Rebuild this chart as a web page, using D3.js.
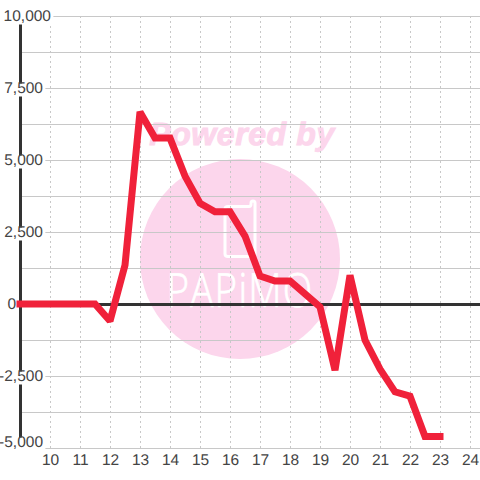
<!DOCTYPE html>
<html>
<head>
<meta charset="utf-8">
<script src="https://cdn.jsdelivr.net/npm/d3@7"></script>
<style>
  html, body { margin: 0; padding: 0; background: #fff; }
  svg { display: block; }
  text { font-family: "Liberation Sans", Arial, sans-serif; text-rendering: geometricPrecision; }
</style>
</head>
<body>
<svg id="chart" width="480" height="480"></svg>
<script>
// DATA
var hours = [9, 9.5, 10, 10.5, 11, 11.5, 12, 12.5, 13, 13.5, 14, 14.5, 15, 15.5, 16,
             16.5, 17, 17.5, 18, 18.5, 19, 19.5, 20, 20.5, 21, 21.5, 22, 22.5, 23];
var values = [0, 0, 0, 0, 0, 0, -590, 1350, 6670, 5760, 5760, 4440, 3500, 3200, 3200,
              2360, 970, 800, 800, 350, -100, -2300, 1000, -1250, -2260, -3050, -3200, -4600, -4600];
var xTicks = [10, 11, 12, 13, 14, 15, 16, 17, 18, 19, 20, 21, 22, 23, 24];
var yLabelTicks = [-5000, -2500, 0, 2500, 5000, 7500, 10000];
var yGridTicks = [-5000, -3750, -2500, -1250, 0, 1250, 2500, 3750, 5000, 6250, 7500, 8750, 10000];

var svg = d3.select("#chart");
var labelFont = '"Liberation Sans", Arial, sans-serif';

// scales
var x = d3.scaleLinear().domain([9, 24]).range([20, 470]);
var y = d3.scaleLinear().domain([-5000, 10000]).range([448, 16]);

// Watermark sits under everything else
var mark = svg.append("g");
mark.append("circle")
    .attr("cx", 240).attr("cy", 259).attr("r", 100)
    .attr("fill", "#fcd6ec");
mark.append("text")
    .attr("x", 242).attr("y", 145)
    .attr("text-anchor", "middle")
    .attr("font-size", 32).attr("font-weight", "bold").attr("font-style", "italic")
    .attr("letter-spacing", 0.6)
    .attr("fill", "#fcd6ec").attr("stroke", "#fcd6ec").attr("stroke-width", 1)
    .text("Powered by");
mark.append("path")
    .attr("d", "M225,209 Q225,206.5 228,206.5 H249 Q251,206.5 251,204 V203 Q251,201 253,201 Q255,201 255,203 V254 Q255,256.5 252,256.5 H228 Q225,256.5 225,254 Z")
    .attr("fill", "none").attr("stroke", "#fff").attr("stroke-width", 3);
mark.append("text")
    .attr("transform", "translate(240,307) scale(0.82,1)")
    .attr("text-anchor", "middle")
    .attr("font-size", 47).attr("font-weight", 300)
    .attr("letter-spacing", 1.5)
    .style("font-family", '"Open Sans", sans-serif')
    .attr("fill", "#fff").attr("stroke", "#fff").attr("stroke-width", 0.7)
    .text("PAPiMO");

// horizontal grid
var yGrid = d3.axisLeft(y).tickValues(yGridTicks).tickSize(-460).tickFormat("");
svg.append("g")
    .attr("transform", "translate(20,0)")
    .call(yGrid)
    .call(function(g) { g.select(".domain").remove(); })
    .selectAll("line").attr("stroke", "#c8c8c8").attr("stroke-width", 1);

// vertical dashed grid
var xGrid = d3.axisBottom(x).tickValues(xTicks).tickSize(-432).tickFormat("");
svg.append("g")
    .attr("transform", "translate(0,448)")
    .call(xGrid)
    .call(function(g) { g.select(".domain").remove(); })
    .selectAll("line").attr("stroke", "#c8c8c8").attr("stroke-dasharray", "2,3");

// zero line and left axis line
svg.append("line")
    .attr("x1", 20).attr("x2", 480).attr("y1", y(0) + 0.5).attr("y2", y(0) + 0.5)
    .attr("stroke", "#333").attr("stroke-width", 3);
svg.append("line")
    .attr("x1", 20.5).attr("x2", 20.5).attr("y1", y(10000)).attr("y2", y(-5000))
    .attr("stroke", "#333").attr("stroke-width", 3);

// y labels, white boxes cut the grid and axis line (0 has none)
var yAxis = d3.axisLeft(y).tickValues(yLabelTicks).tickSize(0)
    .tickFormat(function(d) { return d3.format(",")(d).replace("\u2212", "-"); });
var yg = svg.append("g")
    .attr("transform", "translate(43,0)")
    .call(yAxis);
yg.select(".domain").remove();
yg.selectAll("text")
    .attr("x", function(d) { return d === 10000 ? 8 : d === 0 ? -27 : 0; })
    .attr("y", function(d) { return d === -5000 ? -6 : 0; })
    .attr("font-size", 15.5).attr("fill", "#444")
    .style("font-family", labelFont);
yg.selectAll(".tick").filter(function(d) { return d !== 0; }).each(function(d) {
    var b = d3.select(this).select("text").node().getBBox();
    d3.select(this).insert("rect", "text")
        .attr("x", b.x - 2).attr("y", d === -5000 ? -11 : -5)
        .attr("width", b.width + 4).attr("height", 13)
        .attr("fill", "#fff");
});

// x labels
var xAxis = d3.axisBottom(x).tickValues(xTicks).tickSize(0).tickFormat(d3.format("d"));
var xg = svg.append("g")
    .attr("transform", "translate(0,448)")
    .call(xAxis);
xg.select(".domain").remove();
xg.selectAll("text")
    .attr("y", 6)
    .attr("font-size", 15.5).attr("fill", "#444")
    .style("font-family", labelFont);

// series line
var line = d3.line()
    .x(function(d, i) { return x(hours[i]); })
    .y(function(d) { return y(d); });

svg.append("path")
    .datum(values)
    .attr("d", line)
    .attr("fill", "none")
    .attr("stroke", "#f0213a")
    .attr("stroke-width", 7)
    .attr("stroke-linecap", "square")
    .attr("stroke-linejoin", "miter")
    .attr("stroke-miterlimit", 2);
</script>
</body>
</html>
